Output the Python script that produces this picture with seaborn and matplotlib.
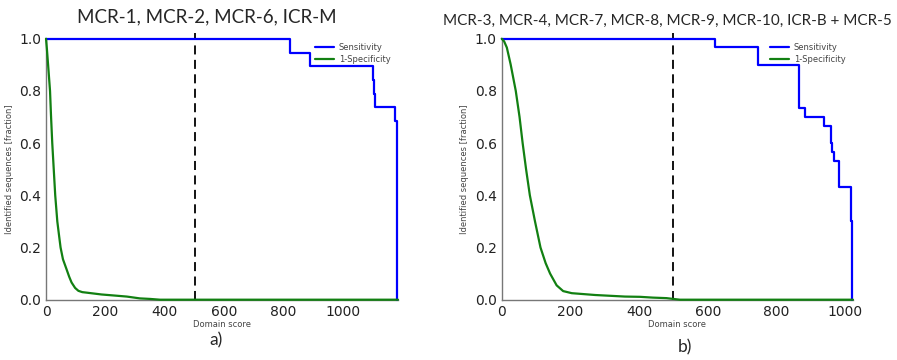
import numpy as np
import pandas as pd
import seaborn as sns
from matplotlib import pyplot as plt

# panel a) MCR-1, MCR-2, MCR-6, ICR-M
sens_a_score = [0, 823, 888, 1100, 1103, 1106, 1176, 1181, 1183]
sens_a_value = [1.0, 0.947, 0.895, 0.842, 0.789, 0.737, 0.684, 0.64, 0.0]
spec_a_score = [0, 3, 7, 13.5, 17, 21, 26, 31, 38, 44, 49, 57, 69, 78, 86, 98, 109, 122, 137,
                187, 230, 272, 316, 350, 384, 1185]
spec_a_value = [1.0, 0.96, 0.9, 0.8, 0.7, 0.6, 0.5, 0.4, 0.3, 0.245, 0.2, 0.155, 0.117, 0.088,
                0.066, 0.045, 0.034, 0.029, 0.027, 0.02, 0.016, 0.012, 0.005, 0.003, 0.0, 0.0]

# panel b) MCR-3, MCR-4, MCR-7, MCR-8, MCR-9, MCR-10, ICR-B + MCR-5
sens_b_score = [0, 622, 746, 865, 882, 939, 958, 963, 968, 983, 1018, 1021]
sens_b_value = [1.0, 0.967, 0.9, 0.733, 0.7, 0.667, 0.6, 0.567, 0.533, 0.433, 0.3, 0.0]
spec_b_score = [0, 7, 15, 26, 41, 52, 61, 71, 82, 97, 113, 128, 141, 160, 179, 204, 272, 359,
                403, 440, 480, 519, 1023]
spec_b_value = [1.0, 0.99, 0.966, 0.902, 0.8, 0.7, 0.6, 0.5, 0.4, 0.3, 0.2, 0.14, 0.1, 0.055,
                0.033, 0.025, 0.018, 0.012, 0.011, 0.008, 0.006, 0.0, 0.0]

threshold = 500
titles = ['MCR-1, MCR-2, MCR-6, ICR-M',
          'MCR-3, MCR-4, MCR-7, MCR-8, MCR-9, MCR-10, ICR-B + MCR-5']
panel_labels = ['a)', 'b)']
xmax = [1185, 1023]

sns.set_style("white")
plt.rcParams['font.family'] = ['DejaVu Sans']

fig = plt.figure(figsize=(8.97, 3.6), dpi=100)
ax_a = fig.add_axes([0.0513, 0.1675, 0.3924, 0.725])
ax_b = fig.add_axes([0.5593, 0.1675, 0.3916, 0.725])

panels = [
    (ax_a, sens_a_score, sens_a_value, spec_a_score, spec_a_value),
    (ax_b, sens_b_score, sens_b_value, spec_b_score, spec_b_value),
]

for i, (ax, ss, sv, ps, pv) in enumerate(panels):
    sns.lineplot(x=ss, y=sv, ax=ax, color='#0000ff', lw=1.6, drawstyle='steps-post',
                 sort=False, label='Sensitivity', clip_on=False, zorder=3)
    sns.lineplot(x=ps, y=pv, ax=ax, color='#128012', lw=1.6, sort=False, label='1-Specificity',
                 clip_on=False, zorder=3)
    ax.vlines(threshold, 0, 1.02, colors='black', linestyles=(0, (5, 3)), lw=1.3, clip_on=False)
    ax.set_xlim(0, xmax[i])
    ax.set_ylim(0, 1.0)
    ax.set_yticks([0, 0.2, 0.4, 0.6, 0.8, 1.0])
    ax.set_xticks([0, 200, 400, 600, 800, 1000])
    ax.tick_params(axis='both', labelsize=10, length=2.5, width=0.8, colors='#555555',
                   labelcolor='#222222', pad=1)
    for side in ['top', 'right']:
        ax.spines[side].set_visible(False)
    for side in ['left', 'bottom']:
        ax.spines[side].set_color('#777777')
        ax.spines[side].set_linewidth(1.0)
    ax.set_xlabel('Domain score', fontsize=6, color='#444444', labelpad=1)
    ax.set_ylabel('Identified sequences [fraction]', fontsize=6, color='#444444', labelpad=4)
    leg = ax.legend(loc='upper right', bbox_to_anchor=(1.0, 1.013), frameon=False, fontsize=6,
                    handlelength=2.2, labelspacing=0.35, handletextpad=0.6)
    for t in leg.get_texts():
        t.set_color('#444444')

fig.text(207 / 897, 1 - 17 / 360, titles[0], ha='center', va='center', fontsize=13.5,
         family='Lato')
fig.text(667 / 897, 1 - 21 / 360, titles[1], ha='center', va='center', fontsize=11,
         family='Lato')
fig.text(216 / 897, 1 - 340 / 360, panel_labels[0], ha='center', va='center', fontsize=12.5,
         family='Lato')
fig.text(685 / 897, 1 - 347 / 360, panel_labels[1], ha='center', va='center', fontsize=12.5,
         family='Lato')

plt.savefig('out.png', dpi=100)
